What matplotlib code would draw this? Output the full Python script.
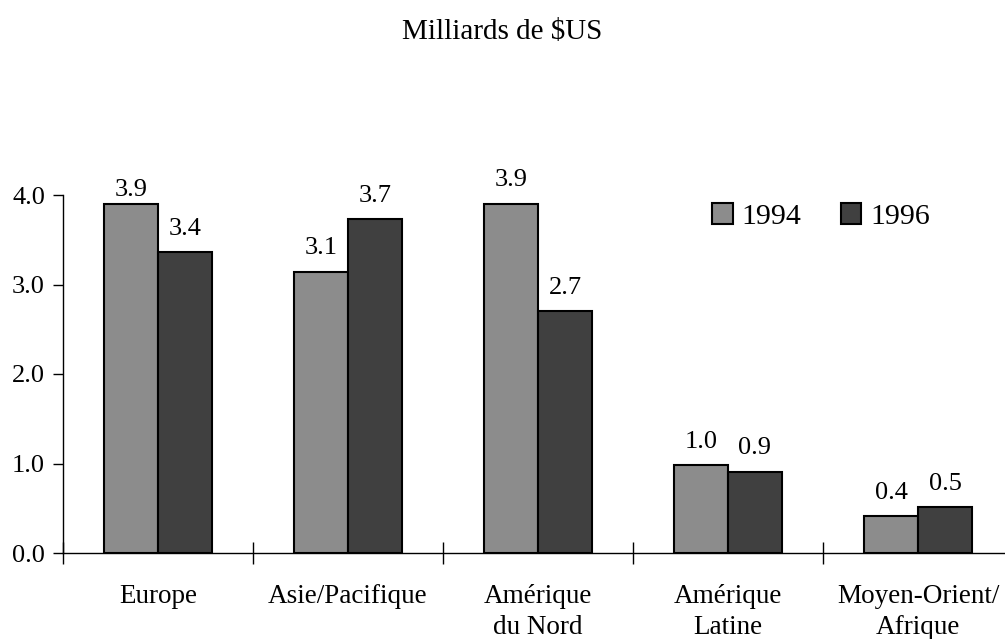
import matplotlib.pyplot as plt
import numpy as np
from matplotlib.patches import Patch

plt.rcParams['font.family'] = ['Liberation Serif', 'DejaVu Serif']

categories = ["Europe", "Asie/Pacifique", "Amérique\ndu Nord", "Amérique\nLatine", "Moyen-Orient/\nAfrique"]
vals_1994 = [3.90, 3.14, 3.90, 0.98, 0.41]
vals_1996 = [3.36, 3.73, 2.70, 0.91, 0.51]
labels_1994 = ["3.9", "3.1", "3.9", "1.0", "0.4"]
labels_1996 = ["3.4", "3.7", "2.7", "0.9", "0.5"]
yticks = [0.0, 1.0, 2.0, 3.0, 4.0]

C94 = "#8c8c8c"
C96 = "#404040"

fig = plt.figure(figsize=(10.05, 6.39), dpi=100)
ax = fig.add_axes([63 / 1005, 86 / 639, 950 / 1005, 358 / 639])

x = np.arange(len(categories)) + 0.5
w = 0.284
b1 = ax.bar(x - w / 2, vals_1994, w, color=C94, edgecolor="black", linewidth=1.5, label="1994")
b2 = ax.bar(x + w / 2, vals_1996, w, color=C96, edgecolor="black", linewidth=1.5, label="1996")

# étiquettes de valeur (celle de l'Europe 1994 est tassée contre la barre)
for i, (r, t) in enumerate(zip(b1, labels_1994)):
    off = 2 if i == 0 else 9
    ax.annotate(t, (r.get_x() + r.get_width() / 2, r.get_height()), xytext=(0, off),
                textcoords="offset points", ha="center", va="bottom", fontsize=19)
for r, t in zip(b2, labels_1996):
    ax.annotate(t, (r.get_x() + r.get_width() / 2, r.get_height()), xytext=(0, 9),
                textcoords="offset points", ha="center", va="bottom", fontsize=19)

ax.set_xlim(0, len(categories))
ax.set_ylim(0, 4.0)
ax.set_yticks(yticks)
ax.set_yticklabels([f"{v:.1f}" for v in yticks], fontsize=19)
ax.tick_params(axis="y", direction="out", length=7, width=1, pad=6)

ax.set_xticks(np.arange(len(categories) + 1))
ax.set_xticklabels([])
ax.tick_params(axis="x", which="major", direction="inout", length=16, width=1)
ax.set_xticks(x, minor=True)
ax.set_xticklabels(categories, minor=True, fontsize=19.5, linespacing=1.35)
ax.tick_params(axis="x", which="minor", length=0, pad=22)

for s in ["top", "right"]:
    ax.spines[s].set_visible(False)
ax.spines["left"].set_linewidth(1)
ax.spines["bottom"].set_linewidth(1)

handles = [Patch(facecolor=C94, edgecolor="black", linewidth=1.5, label="1994"),
           Patch(facecolor=C96, edgecolor="black", linewidth=1.5, label="1996")]
ax.legend(handles=handles, loc="upper left", bbox_to_anchor=(637 / 950, 1.01), ncol=2,
          frameon=False, fontsize=21.5, handlelength=0.7, handleheight=0.7,
          handletextpad=0.3, columnspacing=1.3, borderaxespad=0)

fig.text(0.5, 1 - 32 / 639, "Milliards de $US", ha="center", va="center", fontsize=21)

fig.savefig("out.png", dpi=100)
